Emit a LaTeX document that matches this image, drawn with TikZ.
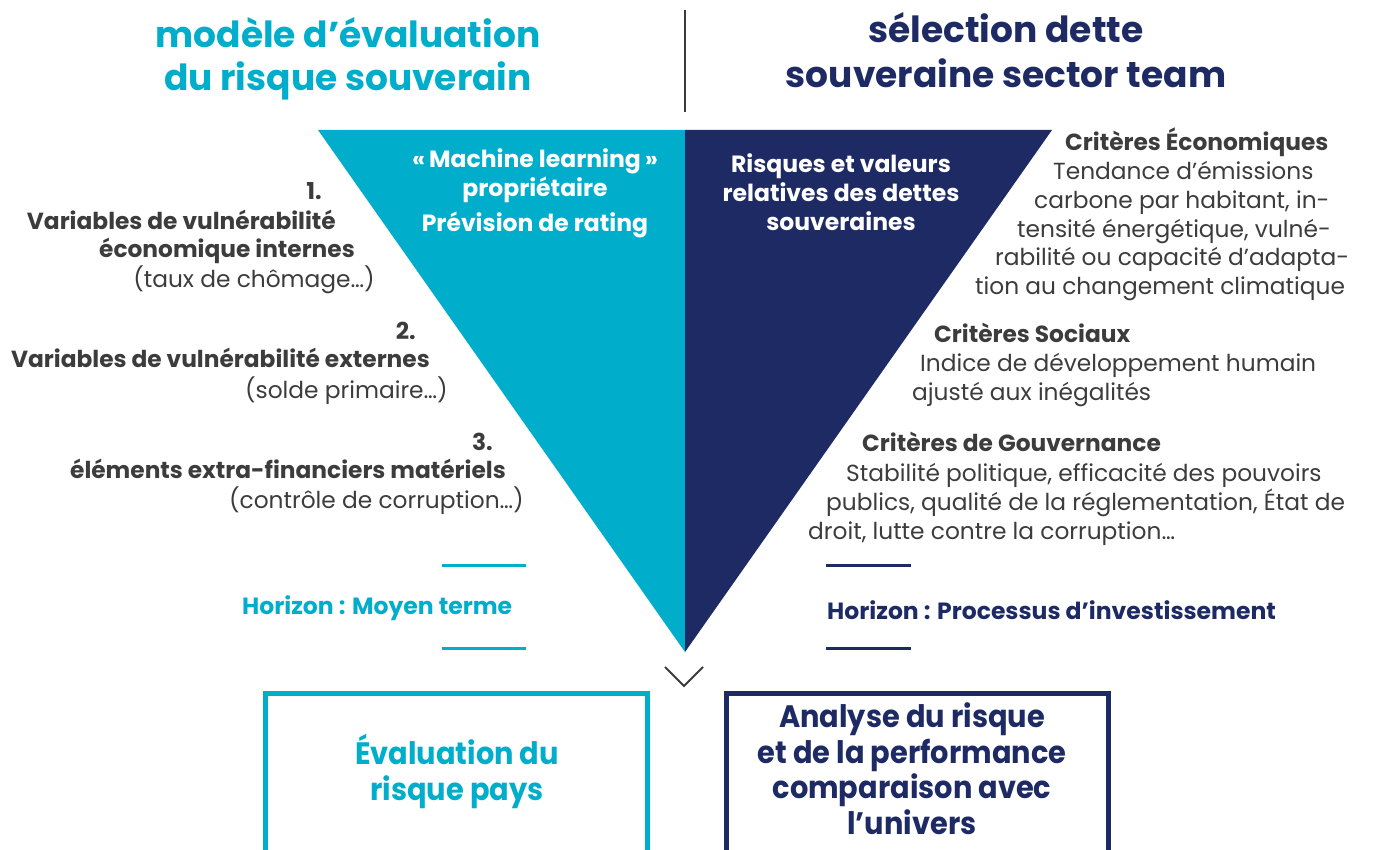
\documentclass[tikz,border=0pt]{standalone}
\usepackage{fontspec}
\setmainfont{Poppins}
\definecolor{cy}{HTML}{00AECB}
\definecolor{nv}{HTML}{1D2A64}
\definecolor{gr}{HTML}{3C3C3C}
\begin{document}
\begin{tikzpicture}[x=1pt,y=-1pt,
  txt/.style={inner sep=0pt, text height=0.72em, text depth=0.2em, yshift=-7pt},
  ttl/.style={txt, yshift=-3pt, font=\fontsize{36}{40}\selectfont\bfseries},
  lab/.style={txt, text=gr, font=\fontsize{23.3}{26}\selectfont\bfseries},
  reg/.style={txt, text=gr, font=\fontsize{23.3}{26}\selectfont},
  wht/.style={txt, text=white, font=\fontsize{23.5}{26}\selectfont\bfseries},
  hor/.style={txt, font=\fontsize{23.5}{26}\selectfont\bfseries},
  boxt/.style={txt, font=\fontsize{31}{34}\selectfont\bfseries},
  rule/.style={line width=3pt},
  frame/.style={line width=5pt, minimum width=382pt, minimum height=200pt, anchor=north west, inner sep=0pt}]
\useasboundingbox (0,0) rectangle (1374,850);
% titles
\node[ttl, text=cy] (t1a) at (348,35) {modèle d’évaluation};
\node[ttl, text=cy] (t1b) at (348,78) {du risque souverain};
\node[ttl, text=nv] (t2a) at (1006,30) {sélection dette};
\node[ttl, text=nv] (t2b) at (1006,75) {souveraine sector team};
\coordinate (dva) at (685,10);
\coordinate (dvb) at (685,112);
\draw[gr, line width=2.5pt] (dva) -- (dvb);
% triangle
\coordinate (tl) at (318,130);
\coordinate (tm) at (685,130);
\coordinate (tr) at (1052,130);
\coordinate (tb) at (685,652);
\fill[cy] (tl) -- (tm) -- (tb) -- cycle;
\fill[nv] (tm) -- (tr) -- (tb) -- cycle;
% inside triangle
\node[wht] (w1) at (535,158) {«\,Machine learning\,»};
\node[wht] (w2) at (535,187) {propriétaire};
\node[wht] (w3) at (535,222) {Prévision de rating};
\node[wht] (n1) at (841,163) {Risques et valeurs};
\node[wht] (n2) at (841,192) {relatives des dettes};
\node[wht] (n3) at (841,221) {souveraines};
% left items
\node[lab, anchor=east] (l1n) at (322,190) {1.};
\node[lab, anchor=east] (l1a) at (336,220) {Variables de vulnérabilité};
\node[lab, anchor=east] (l1b) at (355,248) {économique internes};
\node[reg, anchor=east] (l1c) at (375,278) {(taux de chômage…)};
\node[lab, anchor=east] (l2n) at (416,330) {2.};
\node[lab, anchor=east] (l2a) at (430,358) {Variables de vulnérabilité externes};
\node[reg, anchor=east] (l2c) at (448,389) {(solde primaire…)};
\node[lab, anchor=east] (l3n) at (493,441) {3.};
\node[lab, anchor=east] (l3a) at (506,469) {éléments extra-financiers matériels};
\node[reg, anchor=east] (l3c) at (524,499) {(contrôle de corruption…)};
% right items
\node[lab, anchor=west] (r1a) at (1065,141) {Critères Économiques};
\node[reg, anchor=west] (r1b) at (1053,170) {Tendance d’émissions};
\node[reg, anchor=west] (r1c) at (1034,199) {carbone par habitant, in-};
\node[reg, anchor=west] (r1d) at (1017,228) {tensité énergétique, vulné-};
\node[reg, anchor=west] (r1e) at (995,256) {rabilité ou capacité d’adapta-};
\node[reg, anchor=west] (r1f) at (975,285) {tion au changement climatique};
\node[lab, anchor=west] (r2a) at (934,333) {Critères Sociaux};
\node[reg, anchor=west] (r2b) at (920,362) {Indice de développement humain};
\node[reg, anchor=west] (r2c) at (912,391) {ajusté aux inégalités};
\node[lab, anchor=west] (r3a) at (862,442) {Critères de Gouvernance};
\node[reg, anchor=west] (r3b) at (846,472) {Stabilité politique, efficacité des pouvoirs};
\node[reg, anchor=west] (r3c) at (826,501) {publics, qualité de la réglementation, État de};
\node[reg, anchor=west] (r3d) at (808,530) {droit, lutte contre la corruption…};
% horizons
\coordinate (hl1a) at (442,565); \coordinate (hl1b) at (526,565);
\coordinate (hl2a) at (442,648); \coordinate (hl2b) at (526,648);
\coordinate (hr1a) at (826,565); \coordinate (hr1b) at (911,565);
\coordinate (hr2a) at (826,648); \coordinate (hr2b) at (911,648);
\draw[cy, rule] (hl1a) -- (hl1b);
\draw[cy, rule] (hl2a) -- (hl2b);
\draw[nv, rule] (hr1a) -- (hr1b);
\draw[nv, rule] (hr2a) -- (hr2b);
\node[hor, text=cy, anchor=west] (hl) at (242,605) {Horizon : Moyen terme};
\node[hor, text=nv, anchor=west] (hr) at (827,610) {Horizon : Processus d’investissement};
% chevron
\coordinate (cva) at (665,667);
\coordinate (cvb) at (684,686);
\coordinate (cvc) at (703,667);
\draw[gr, line width=2pt] (cva) -- (cvb) -- (cvc);
% boxes
\node[frame, draw=cy] (bl) at (262.5,690.5) {};
\node[frame, draw=nv] (br) at (723.5,690.5) {};
\node[boxt, text=cy] (bl1) at (457,755) {\scalebox{0.93}[1]{Évaluation du}};
\node[boxt, text=cy] (bl2) at (457,791) {\scalebox{0.93}[1]{risque pays}};
\node[boxt, text=nv] (br1) at (912,718) {\scalebox{0.93}[1]{Analyse du risque}};
\node[boxt, text=nv] (br2) at (912,754) {\scalebox{0.93}[1]{et de la performance}};
\node[boxt, text=nv] (br3) at (912,789) {\scalebox{0.93}[1]{comparaison avec}};
\node[boxt, text=nv] (br4) at (912,825) {\scalebox{0.93}[1]{l’univers}};
\end{tikzpicture}
\end{document}
